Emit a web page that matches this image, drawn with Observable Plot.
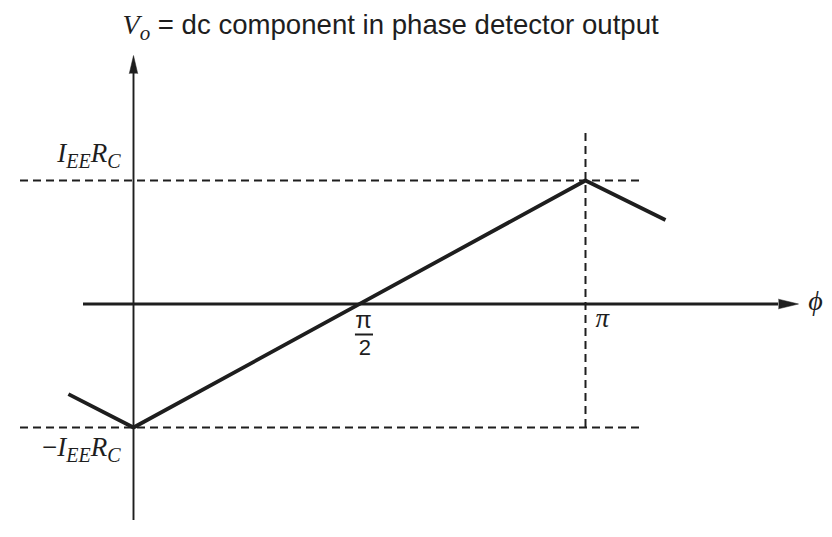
<!DOCTYPE html>
<html>
<head>
<meta charset="utf-8">
<script src="https://cdn.jsdelivr.net/npm/d3@7"></script>
<script src="https://cdn.jsdelivr.net/npm/@observablehq/plot@0.6"></script>
<style>
  html, body { margin: 0; padding: 0; background: #fff; }
  svg { display: block; }
</style>
</head>
<body>
<div id="chart"></div>
<script>
const PI = Math.PI;

// Curve vertices: phase difference (rad) and dc output in units of I_EE·R_C
const phase = [-0.144 * PI, 0, PI, 1.177 * PI];
const vout  = [-0.73, -1, 1, 0.68];

// Reference levels ±I_EE R_C and marked phases
const levels = [1, -1];
const markedPhase = [PI / 2, PI];

// Axis extents (data units)
const xAxisFrom = -0.1106 * PI, xAxisTo = 1.427 * PI;   // phase axis (arrow base at xAxisTo)
const yAxisFrom = -1.753, yAxisTo = 1.866;               // Vo axis (arrow base at yAxisTo)
const dashFrom = -0.25 * PI, dashTo = 1.126 * PI;        // horizontal dashed guides
const vDashTop = 1.38;                                   // top of vertical dashed guide at π

// Label texts (segments: text, family, italic, size, subscript)
const SERIF = "'Liberation Serif', 'Times New Roman', serif";
const SANS = "'Liberation Sans', Arial, Helvetica, sans-serif";
const titleParts = [
  {t: "V", f: SERIF, i: true, s: 28},
  {t: "o", f: SERIF, i: true, s: 21, sub: 6},
  {t: " = dc component in phase detector output", f: SANS, s: 27.6}
];
const topParts = [
  {t: "I", f: SERIF, i: true, s: 27},
  {t: "EE", f: SERIF, i: true, s: 20, sub: 6},
  {t: "R", f: SERIF, i: true, s: 27},
  {t: "C", f: SERIF, i: true, s: 20, sub: 6}
];
const bottomParts = [{t: "\u2212", f: SERIF, s: 27}, ...topParts];
const piNumParts = [{t: "\u03C0", f: SANS, s: 24}];
const piDenParts = [{t: "2", f: SANS, s: 22}];
const piParts = [{t: "\u03C0", f: SERIF, i: true, s: 27}];
const phiParts = [{t: "\u03D5", f: SERIF, i: true, s: 28}];

const labels = [
  {id: "lbl-title", parts: titleParts, x: -0.0243 * PI, y: 2.19, anchor: "start"},
  {id: "lbl-top", parts: topParts, x: -0.0288 * PI, y: 1.146, anchor: "end"},
  {id: "lbl-bottom", parts: bottomParts, x: -0.0288 * PI, y: -1.227, anchor: "end"},
  {id: "lbl-pinum", parts: piNumParts, x: 0.509 * PI, y: -0.198, anchor: "middle"},
  {id: "lbl-piden", parts: piDenParts, x: 0.512 * PI, y: -0.417, anchor: "middle"},
  {id: "lbl-pi", parts: piParts, x: 1.037 * PI, y: -0.19, anchor: "middle"},
  {id: "lbl-phi", parts: phiParts, x: 1.509 * PI, y: -0.045, anchor: "middle"}
];

const curve = phase.map((p, k) => ({p, v: vout[k]}));
const INK = "#1e1e1e";

const marks = [
  // dashed guides at ±I_EE R_C
  Plot.ruleY(levels, {x1: dashFrom, x2: dashTo, stroke: INK, strokeWidth: 2, strokeDasharray: "8,5"}),
  // vertical dashed guide at φ = π
  Plot.ruleX([markedPhase[1]], {y1: levels[1], y2: vDashTop, stroke: INK, strokeWidth: 2, strokeDasharray: "8,5"}),
  // phase axis
  Plot.ruleY([0], {x1: xAxisFrom, x2: xAxisTo, stroke: INK, strokeWidth: 2.8}),
  Plot.vector([{x: xAxisTo, y: 0}], {x: "x", y: "y", rotate: 90, length: 20, r: 4.8, shape: "spike", anchor: "start", fill: INK, stroke: INK, strokeWidth: 0.5}),
  // Vo axis
  Plot.ruleX([0], {y1: yAxisFrom, y2: yAxisTo, stroke: INK, strokeWidth: 1.9}),
  Plot.vector([{x: 0, y: yAxisTo}], {x: "x", y: "y", rotate: 0, length: 18, r: 4.2, shape: "spike", anchor: "start", fill: INK, stroke: INK, strokeWidth: 0.5}),
  // characteristic
  Plot.line(curve, {x: "p", y: "v", stroke: INK, strokeWidth: 3.8, strokeLinejoin: "miter", strokeLinecap: "butt"}),
  // fraction bar for π/2
  Plot.ruleY([-0.247], {x1: 0.491 * PI, x2: 0.531 * PI, stroke: INK, strokeWidth: 2}),
  // labels
  ...labels.map(L => Plot.text([L], {
    x: "x", y: "y", text: d => d.id,
    textAnchor: L.anchor, lineAnchor: "bottom", fill: INK, ariaDescription: L.id
  }))
];

const svg = Plot.plot({
  width: 832,
  height: 537,
  margin: 0,
  x: {domain: [0, PI], range: [133, 585], axis: null},
  y: {domain: [-1, 1], range: [427, 180], axis: null},
  style: {background: "#fff", overflow: "visible"},
  marks
});

// rebuild label texts with italic / subscript segments
const byId = new Map(labels.map(L => [L.id, L]));
d3.select(svg).selectAll("text").each(function () {
  const L = byId.get(this.textContent);
  if (!L) return;
  const sel = d3.select(this);
  sel.text(null);
  let cur = 0;
  L.parts.forEach(p => {
    const target = p.sub || 0;
    sel.append("tspan")
      .attr("dy", target - cur)
      .style("font-family", p.f)
      .style("font-style", p.i ? "italic" : "normal")
      .style("font-size", p.s + "px")
      .text(p.t);
    cur = target;
  });
});

document.getElementById("chart").appendChild(svg);
</script>
</body>
</html>
